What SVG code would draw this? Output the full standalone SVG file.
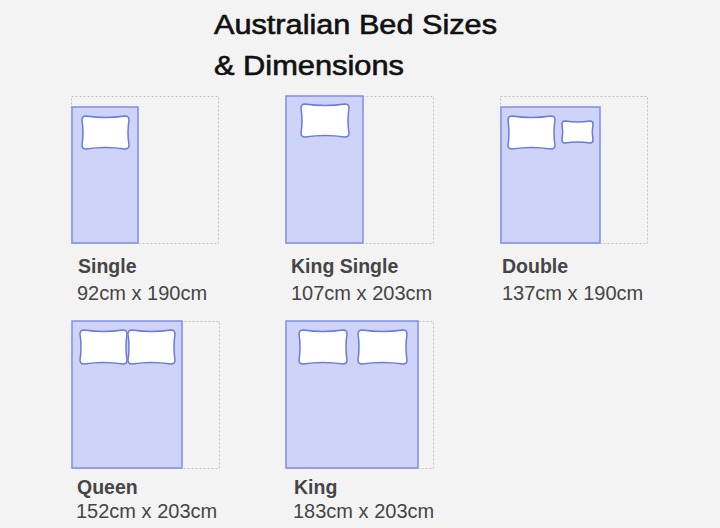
<svg xmlns="http://www.w3.org/2000/svg" width="720" height="528" viewBox="0 0 720 528">
<style>
.bg{fill:#f3f3f3}
.frame{fill:none;stroke:#c2c2c2;stroke-width:1;stroke-dasharray:2 2}
.bed{fill:#cdd4f8;stroke:#7f8ee9;stroke-width:1.5}
.pillow{fill:#ffffff;stroke:#6a7ae2;stroke-width:1.5}
.title{font-family:"Liberation Sans",Arial,sans-serif;font-size:27px;fill:#111;stroke:#111;stroke-width:0.6}
.name{font-family:"Liberation Sans",Arial,sans-serif;font-size:19.5px;font-weight:bold;fill:#454545}
.dim{font-family:"Liberation Sans",Arial,sans-serif;font-size:20px;fill:#454545}
</style>
<rect class="bg" x="0" y="0" width="720" height="528"/>
<g id="title">
<text class="title" x="214" y="34" textLength="283" lengthAdjust="spacingAndGlyphs">Australian Bed Sizes</text>
<text class="title" x="214" y="75" textLength="190" lengthAdjust="spacingAndGlyphs">&amp; Dimensions</text>
</g>
<g id="connectors"></g>
<g id="single">
<rect class="frame" x="71.5" y="96.5" width="147" height="147"/>
<rect class="bed" x="72" y="107" width="66" height="136"/>
<path class="pillow" d="M86,116 Q105.5,119 125,116 Q129,116 129,120 Q127,132.5 129,145 Q129,149 125,149 Q105.5,146 86,149 Q82,149 82,145 Q84,132.5 82,120 Q82,116 86,116 Z"/>
<text class="name" x="78" y="273">Single</text>
<text class="dim" x="77" y="300">92cm x 190cm</text>
</g>
<g id="king-single">
<rect class="frame" x="286.5" y="96.5" width="147" height="147"/>
<rect class="bed" x="286" y="96" width="77" height="147"/>
<path class="pillow" d="M305,104 Q325,107 345,104 Q349,104 349,108 Q347,120.5 349,133 Q349,137 345,137 Q325,134 305,137 Q301,137 301,133 Q303,120.5 301,108 Q301,104 305,104 Z"/>
<text class="name" x="291" y="273">King Single</text>
<text class="dim" x="291" y="300">107cm x 203cm</text>
</g>
<g id="double">
<rect class="frame" x="500.5" y="96.5" width="147" height="147"/>
<rect class="bed" x="501" y="107" width="99" height="136"/>
<path class="pillow" d="M512,116 Q531.5,119 551,116 Q555,116 555,120 Q553,132.5 555,145 Q555,149 551,149 Q531.5,146 512,149 Q508,149 508,145 Q510,132.5 508,120 Q508,116 512,116 Z"/>
<path class="pillow" d="M565,121 Q577.5,123 590,121 Q593,121 593,124 Q591.5,132 593,140 Q593,143 590,143 Q577.5,141 565,143 Q562,143 562,140 Q563.5,132 562,124 Q562,121 565,121 Z"/>
<text class="name" x="502" y="273">Double</text>
<text class="dim" x="502" y="300">137cm x 190cm</text>
</g>
<g id="queen">
<rect class="frame" x="72.5" y="321.5" width="147" height="147"/>
<rect class="bed" x="72" y="321" width="110" height="147"/>
<path class="pillow" d="M84,330 Q103.5,333 123,330 Q127,330 127,334 Q125,347 127,360 Q127,364 123,364 Q103.5,361 84,364 Q80,364 80,360 Q82,347 80,334 Q80,330 84,330 Z"/>
<path class="pillow" d="M132,330 Q151.5,333 171,330 Q175,330 175,334 Q173,347 175,360 Q175,364 171,364 Q151.5,361 132,364 Q128,364 128,360 Q130,347 128,334 Q128,330 132,330 Z"/>
<text class="name" x="77" y="494">Queen</text>
<text class="dim" x="76" y="518">152cm x 203cm</text>
</g>
<g id="king">
<rect class="frame" x="286.5" y="321.5" width="147" height="147"/>
<rect class="bed" x="286" y="321" width="132" height="147"/>
<path class="pillow" d="M303,330 Q323,333 343,330 Q347,330 347,334 Q345,347 347,360 Q347,364 343,364 Q323,361 303,364 Q299,364 299,360 Q301,347 299,334 Q299,330 303,330 Z"/>
<path class="pillow" d="M362,330 Q382.5,333 403,330 Q407,330 407,334 Q405,347 407,360 Q407,364 403,364 Q382.5,361 362,364 Q358,364 358,360 Q360,347 358,334 Q358,330 362,330 Z"/>
<text class="name" x="294" y="494">King</text>
<text class="dim" x="293" y="518">183cm x 203cm</text>
</g>
</svg>
